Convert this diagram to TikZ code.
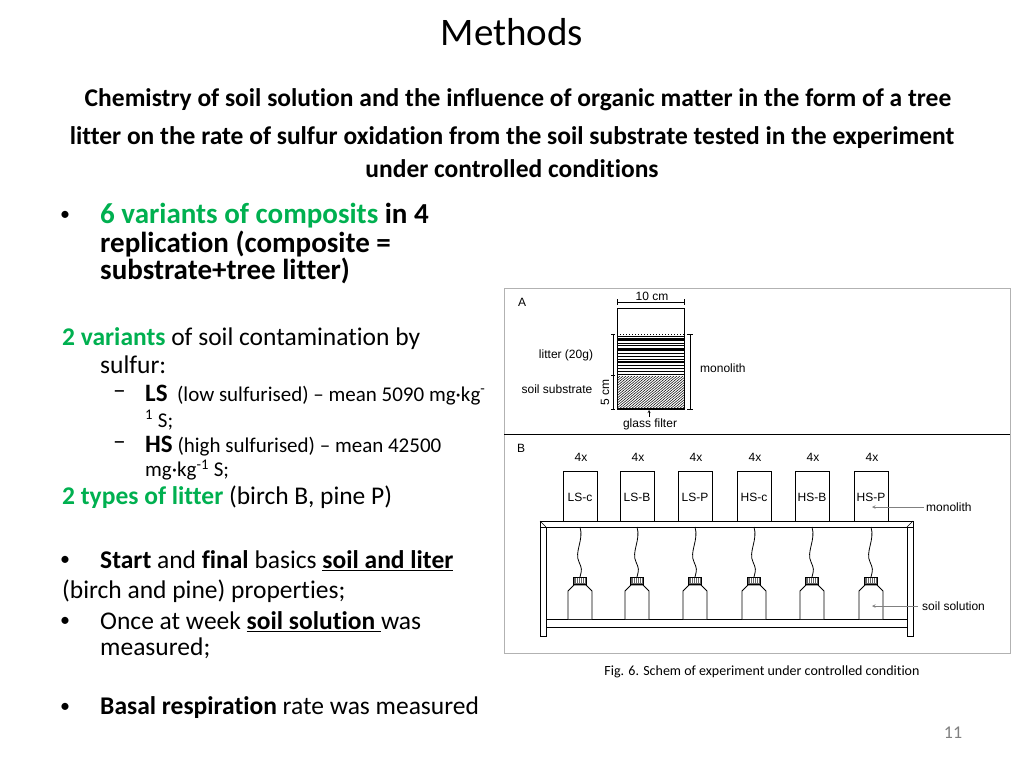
\documentclass[tikz,border=0pt]{standalone}
\usepackage{fontspec}
\setmainfont[Ligatures={NoCommon}]{Carlito}
\newfontfamily\arial{Liberation Sans}
\begin{document}
\begin{tikzpicture}[x=1pt,y=-1pt,
  txt/.style={anchor=west,inner sep=0pt,font=\fontsize{25.5}{30}\selectfont},
  big/.style={anchor=west,inner sep=0pt,font=\bfseries\fontsize{29}{34}\selectfont},
  sml/.style={anchor=west,inner sep=0pt,font=\fontsize{21}{24}\selectfont},
  fig/.style={inner sep=0pt,font=\arial\fontsize{12}{14}\selectfont},
  box/.style={draw,line width=0.8pt,fill=white},
  arr/.style={draw=gray,line width=0.6pt}]
\definecolor{grn}{RGB}{0,176,80}
\useasboundingbox (0,0) rectangle (1024,768);
\node (title) at (512,32) {\fontsize{39}{44}\selectfont Methods};
\node[font=\bfseries\fontsize{25.5}{30}\selectfont] (s1) at (518,100) {Chemistry of soil solution and the influence of organic matter in the form of a tree};
\node[font=\bfseries\fontsize{25.5}{30}\selectfont] (s2) at (512,138) {litter on the rate of sulfur oxidation from the soil substrate tested in the experiment};
\node[font=\bfseries\fontsize{25.5}{30}\selectfont] (s3) at (512,169) {under controlled conditions};
% left text
\node[txt] (b1) at (60,216) {\fontsize{20}{24}\selectfont•};
\node[big] (t1) at (100,216) {\textcolor{grn}{6 variants of composits} in 4};
\node[big] (t2) at (100,244) {replication (composite =};
\node[big] (t3) at (100,271) {substrate+tree litter)};
\node[txt] (t4) at (62,339) {\textbf{\textcolor{grn}{2 variants}} of soil contamination by};
\node[txt] (t5) at (100,365) {sulfur:};
\node[txt] (d1) at (113,395) {–};
\node[sml] (t6) at (145,395) {\textbf{\fontsize{25}{28}\selectfont LS} \ (low sulfurised) – mean 5090 mg·kg\textsuperscript{-}};
\node[sml] (t7) at (145,420) {\textsuperscript{1} S;};
\node[txt] (d2) at (113,446) {–};
\node[sml] (t8) at (145,446) {\textbf{\fontsize{25}{28}\selectfont HS} (high sulfurised) – mean 42500};
\node[sml] (t9) at (145,470) {mg·kg\textsuperscript{-1} S;};
\node[txt] (t10) at (62,497) {\textbf{\textcolor{grn}{2 types of litter}} (birch B, pine P)};
\node[txt] (b2) at (60,561) {\fontsize{20}{24}\selectfont•};
\node[txt] (t11) at (100,561) {\textbf{Start} and \textbf{final} basics \textbf{\underline{soil and liter}}};
\node[txt] (t12) at (62,591) {(birch and pine) properties;};
\node[txt] (b3) at (60,622) {\fontsize{20}{24}\selectfont•};
\node[txt] (t13) at (100,622) {Once at week \textbf{\underline{soil solution }}was};
\node[txt] (t14) at (100,648) {measured;};
\node[txt] (b4) at (60,708) {\fontsize{20}{24}\selectfont•};
\node[txt] (t15) at (100,708) {\textbf{Basal respiration} rate was measured};
\node[font=\fontsize{14}{16}\selectfont] (cap) at (762,672) {Fig. 6. Schem of experiment under controlled condition};
\node[font=\fontsize{18}{20}\selectfont,text=gray] (pg) at (953,733) {11};
% figure frame
\draw[gray!60,line width=0.8pt] (504,288) rectangle (1010,653);
\draw[line width=0.8pt] (504,434) -- (1010,434);
\node[fig] (A) at (522,302) {A};
\node[fig] (B) at (521,448) {B};
% column
\draw[line width=0.8pt] (617,308) rectangle (684,409);
\draw[line width=1pt,dotted] (617,334) -- (684,334);
\foreach \yy/\w in {336/1,338/0.5,340/1.2,343/0.5,345/1,348/0.6,350/1.2,353/0.5,356/1,359/0.6,362/1.2,365/0.5,368/1,371/0.6,374/1}
  \draw[line width=\w pt] (617,\yy) -- (684,\yy);
\begin{scope}
\clip (617,376) rectangle (684,409);
\foreach \k in {0,3,...,110} \draw[line width=0.5pt] (617+\k-40,409) -- (617+\k,376);
\end{scope}
\draw[line width=1.5pt] (617,409) -- (684,409);
\draw[line width=0.6pt] (617,302) -- (684,302) (617,299) -- (617,305) (684,299) -- (684,305);
\node[fig] (cm10) at (652,296) {10 cm};
\draw[line width=0.6pt] (690,334) -- (690,409) (687,334) -- (693,334) (687,409) -- (693,409);
\node[fig,anchor=west] (mono) at (700,368) {monolith};
\draw[line width=0.6pt] (613,334) -- (613,409) (611,334) -- (615,334) (611,375) -- (615,375) (611,409) -- (615,409);
\node[fig,rotate=90] (cm5) at (605,392) {5 cm};
\node[fig] (lit) at (566,355) {litter (20g)};
\node[fig] (soil) at (557,389) {soil substrate};
\node[fig] (glass) at (650,424) {glass filter};
\draw[->,>=stealth,line width=0.4pt] (649,417) -- (649,410);
% table
\draw[box] (540,521) rectangle (913,527);
\draw[line width=0.6pt] (540,521) -- (546,527) (913,521) -- (907,527);
\draw[box] (540,527) rectangle (546,636);
\draw[box] (907,527) rectangle (913,636);
\draw[box] (546,619) rectangle (907,627);
\foreach \x/\lab [count=\i] in {580/LS-c,637/LS-B,695/LS-P,754/HS-c,812/HS-B,871/HS-P}{
  \draw[box] (\x-17,471) rectangle node[fig,pos=0.5,yshift=-1pt] (m\i) {\lab} (\x+17,521);
  \node[fig] (n\i) at (\x+1,457) {4x};
  \draw[line width=0.8pt] (\x,527) .. controls (\x+4,540) and (\x-6,552) .. (\x-1,562) .. controls (\x+2,569) .. (\x,577);
  \draw[box,fill=black!60] (\x-6.5,577) rectangle (\x+6.5,584);
  \foreach \d in {-4,-2,0,2,4} \draw[white,line width=0.5pt] (\x+\d,578) -- (\x+\d,583);
  \draw[box] (\x-12,619) -- (\x-12,591) -- (\x-6,585) -- (\x+6,585) -- (\x+12,591) -- (\x+12,619);
}
\draw[arr,->,>=stealth] (924,507) -- (872,507);
\node[fig,anchor=west] (lmono) at (926,507) {monolith};
\draw[arr,->,>=stealth] (918,606) -- (872,606);
\node[fig,anchor=west] (lsol) at (922,606) {soil solution};
\end{tikzpicture}
\end{document}
